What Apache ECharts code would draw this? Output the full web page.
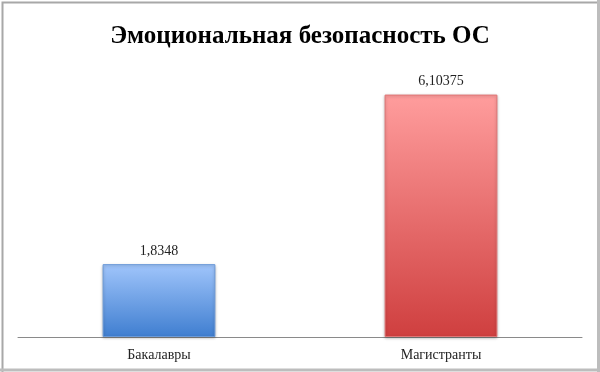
<!DOCTYPE html>
<html><head><meta charset="utf-8">
<script src="https://cdn.jsdelivr.net/npm/echarts@6/dist/echarts.min.js"></script>
<style>html,body{margin:0;padding:0;background:#fff}#c{width:600px;height:372px}</style>
</head><body><div id="c"></div>
<script>
const categories = ["Бакалавры", "Магистранты"];
const values = [1.8348, 6.10375];
const valueLabels = ["1,8348", "6,10375"];
const title = "Эмоциональная безопасность ОС";

const gradients = [
  ["#a0c5fb", "#3f7ed0", "#6b9ad8"],
  ["#ff9d9d", "#cf3f3f", "#e07575"]
];
const chart = echarts.init(document.getElementById('c'));
const serif = '"Liberation Serif", "DejaVu Serif", serif';
chart.setOption({
  animation: false,
  title: {
    text: title, left: 'center', top: 19,
    textStyle: { fontFamily: serif, fontWeight: 'bold', fontSize: 25, color: '#000' }
  },
  graphic: [
    { type: 'rect', left: 0, top: 0, shape: { width: 599, height: 371 },
      style: { fill: 'none', stroke: '#a8a8a8', lineWidth: 2 }, silent: true },
    { type: 'line', shape: { x1: 0, y1: 370, x2: 600, y2: 370 },
      style: { stroke: '#bdbdbd', lineWidth: 3 }, silent: true },
    { type: 'line', shape: { x1: 598.5, y1: 0, x2: 598.5, y2: 372 },
      style: { stroke: '#bdbdbd', lineWidth: 3 }, silent: true }
  ],
  grid: { left: 18, right: 18, top: 59, bottom: 35 },
  xAxis: {
    type: 'category', data: categories,
    axisLine: { lineStyle: { color: '#8a8a8a', width: 1 } },
    axisTick: { show: false },
    axisLabel: { fontFamily: serif, fontSize: 14, color: '#222', margin: 11 }
  },
  yAxis: { type: 'value', min: 0, max: 7, show: false, splitLine: { show: false } },
  series: [{
    type: 'bar', barWidth: '40%',
    data: values.map((v, i) => ({
      value: v,
      itemStyle: {
        color: new echarts.graphic.LinearGradient(0, 0, 0, 1, [
          { offset: 0, color: gradients[i][0] }, { offset: 1, color: gradients[i][1] }
        ]),
        borderColor: gradients[i][2], borderWidth: 1,
        shadowColor: 'rgba(0,0,0,0.25)', shadowBlur: 3, shadowOffsetY: 1
      },
      label: { formatter: valueLabels[i] }
    })),
    label: { show: true, position: 'top', distance: 6, fontFamily: serif, fontSize: 14, color: '#222' }
  }]
});
</script></body></html>
